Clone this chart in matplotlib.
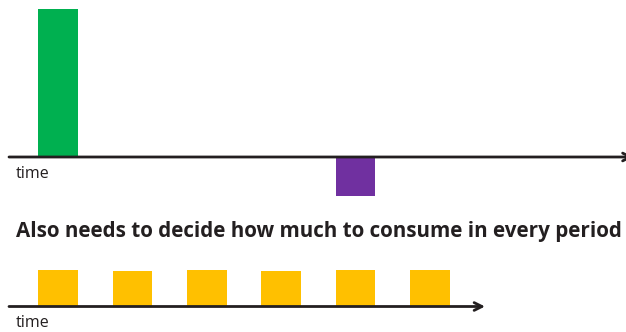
import matplotlib.pyplot as plt

# верхняя панель: доход (+) и расход (-) по периодам
income_periods = [0, 4]
income_values = [3.8, -1.0]
income_colors = ['#00b050', '#7030a0']

# нижняя панель: потребление в каждом периоде
consume_periods = [0, 1, 2, 3, 4, 5]
consume_values = [1.0, 0.97, 1.0, 0.97, 1.0, 1.0]

title = 'Also needs to decide how much to consume in every period'
axis_label = 'time'

W, H = 626, 332
fig = plt.figure(figsize=(W / 100, H / 100), dpi=100)

# шаг периода в пикселях и положение первого столбца
step = 74.4
x0 = 58
xlim = (-x0 / step, (W - x0) / step)
bar_w = 0.53
axis_color = '#231f20'


def make_axes(top_px, bottom_px, base_px, px_per_unit):
    ax = fig.add_axes([0, (H - bottom_px) / H, 1, (bottom_px - top_px) / H])
    ax.set_xlim(*xlim)
    ax.set_ylim(-(bottom_px - base_px) / px_per_unit, (base_px - top_px) / px_per_unit)
    ax.axis('off')
    return ax


def draw_axis(ax, end_frac, label_y):
    ax.annotate('', xy=(end_frac, 0), xytext=(9 / W, 0),
                xycoords=('axes fraction', 'data'),
                arrowprops=dict(arrowstyle='->', color=axis_color, lw=2.0,
                                mutation_scale=14, shrinkA=0, shrinkB=0),
                annotation_clip=False)
    ax.text(16 / W, label_y, axis_label, transform=ax.transAxes,
            fontsize=11.5, family='Open Sans', color='#231f20', va='center', ha='left')


# верх
ax1 = make_axes(0, 210, 157, 39)
ax1.bar(income_periods, income_values, width=bar_w, color=income_colors, zorder=1)
draw_axis(ax1, 1.012, (210 - 174) / 210)

# заголовок
fig.text(16 / W, (H - 232) / H, title, fontsize=14.9, fontweight='bold',
         family='Open Sans', color='#231f20', va='center', ha='left')

# низ
ax2 = make_axes(250, 332, 306.5, 37)
ax2.bar(consume_periods, consume_values, width=bar_w, color='#ffc000', zorder=1)
draw_axis(ax2, 485 / W, (332 - 323) / 82)

fig.savefig('out.png', dpi=100)
